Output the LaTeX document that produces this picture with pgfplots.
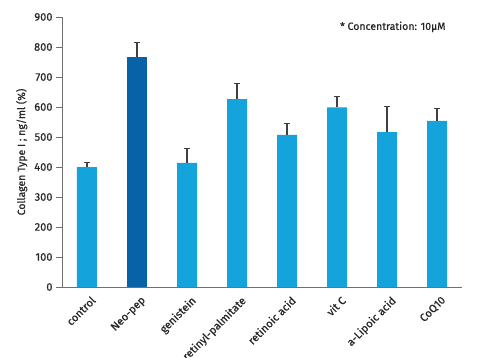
\documentclass[border=0pt]{standalone}
\usepackage{pgfplots}
\pgfplotsset{compat=1.18}
\usepackage{pgfplotstable}
\usepackage{fontspec}
\setmainfont{Fira Sans}[FakeBold=0.5]
\definecolor{lightbar}{HTML}{14A3DA}
\definecolor{darkbar}{HTML}{0762A8}
\definecolor{axisgray}{HTML}{707070}
\definecolor{errgray}{HTML}{404040}
\pgfplotstableread{
x y err
0 400 15
2 414 47
3 626 53
4 507 39
5 599 35
6 516 86
7 554 40
}\lightdata
\pgfplotstableread{
x y err
1 768 47
}\darkdata
\begin{document}
\begin{tikzpicture}
\begin{axis}[
  scale only axis,
  width=400pt, height=270pt,
  xmin=-0.5, xmax=7.5,
  ymin=0, ymax=900,
  axis lines*=left,
  axis line style={axisgray, line width=0.9pt},
  ytick={0,100,...,900},
  xtick={0,...,7},
  xticklabels={control,Neo-pep,genistein,retinyl-palmitate,retinoic acid,vit C,a-Lipoic acid,CoQ10},
  x tick label style={rotate=45, anchor=north east, font=\fontsize{11}{12}\selectfont, text=black!85, inner sep=1pt, xshift=2pt, yshift=-3pt},
  y tick label style={font=\fontsize{11}{12}\selectfont, text=black!85},
  major x tick style={draw=none},
  extra x ticks={-0.5,0.5,...,6.5},
  extra x tick labels={},
  extra x tick style={major tick length=6pt, tick style={axisgray, line width=0.9pt}},
  tick align=outside,
  major tick length=6pt,
  tick style={axisgray, line width=0.9pt},
  /pgf/number format/assume math mode=true,
  ylabel={Collagen Type I ; ng/ml (\%)},
  ylabel style={font=\fontsize{10.5}{11}\selectfont, text=black!85},
  ylabel shift=0pt,
  clip=false,
]
\addplot[ybar, bar width=20pt, fill=lightbar, draw=none,
  error bars/.cd, y dir=plus, y explicit,
  error bar style={errgray, line width=1.3pt},
  error mark options={rotate=90, mark size=3pt, errgray, line width=1.3pt}]
  table[x=x, y=y, y error=err]{\lightdata};
\addplot[ybar, bar width=20pt, fill=darkbar, draw=none,
  error bars/.cd, y dir=plus, y explicit,
  error bar style={errgray, line width=1.3pt},
  error mark options={rotate=90, mark size=3pt, errgray, line width=1.3pt}]
  table[x=x, y=y, y error=err]{\darkdata};
\node[anchor=west, font=\fontsize{10.5}{11}\selectfont, text=black!85, inner sep=0pt] at (axis cs:5.06,867) {* Concentration: 10µM};
\end{axis}
\pgfresetboundingbox
\path[use as bounding box] (-62pt,-70pt) rectangle (423pt,287pt);
\end{tikzpicture}
\end{document}
